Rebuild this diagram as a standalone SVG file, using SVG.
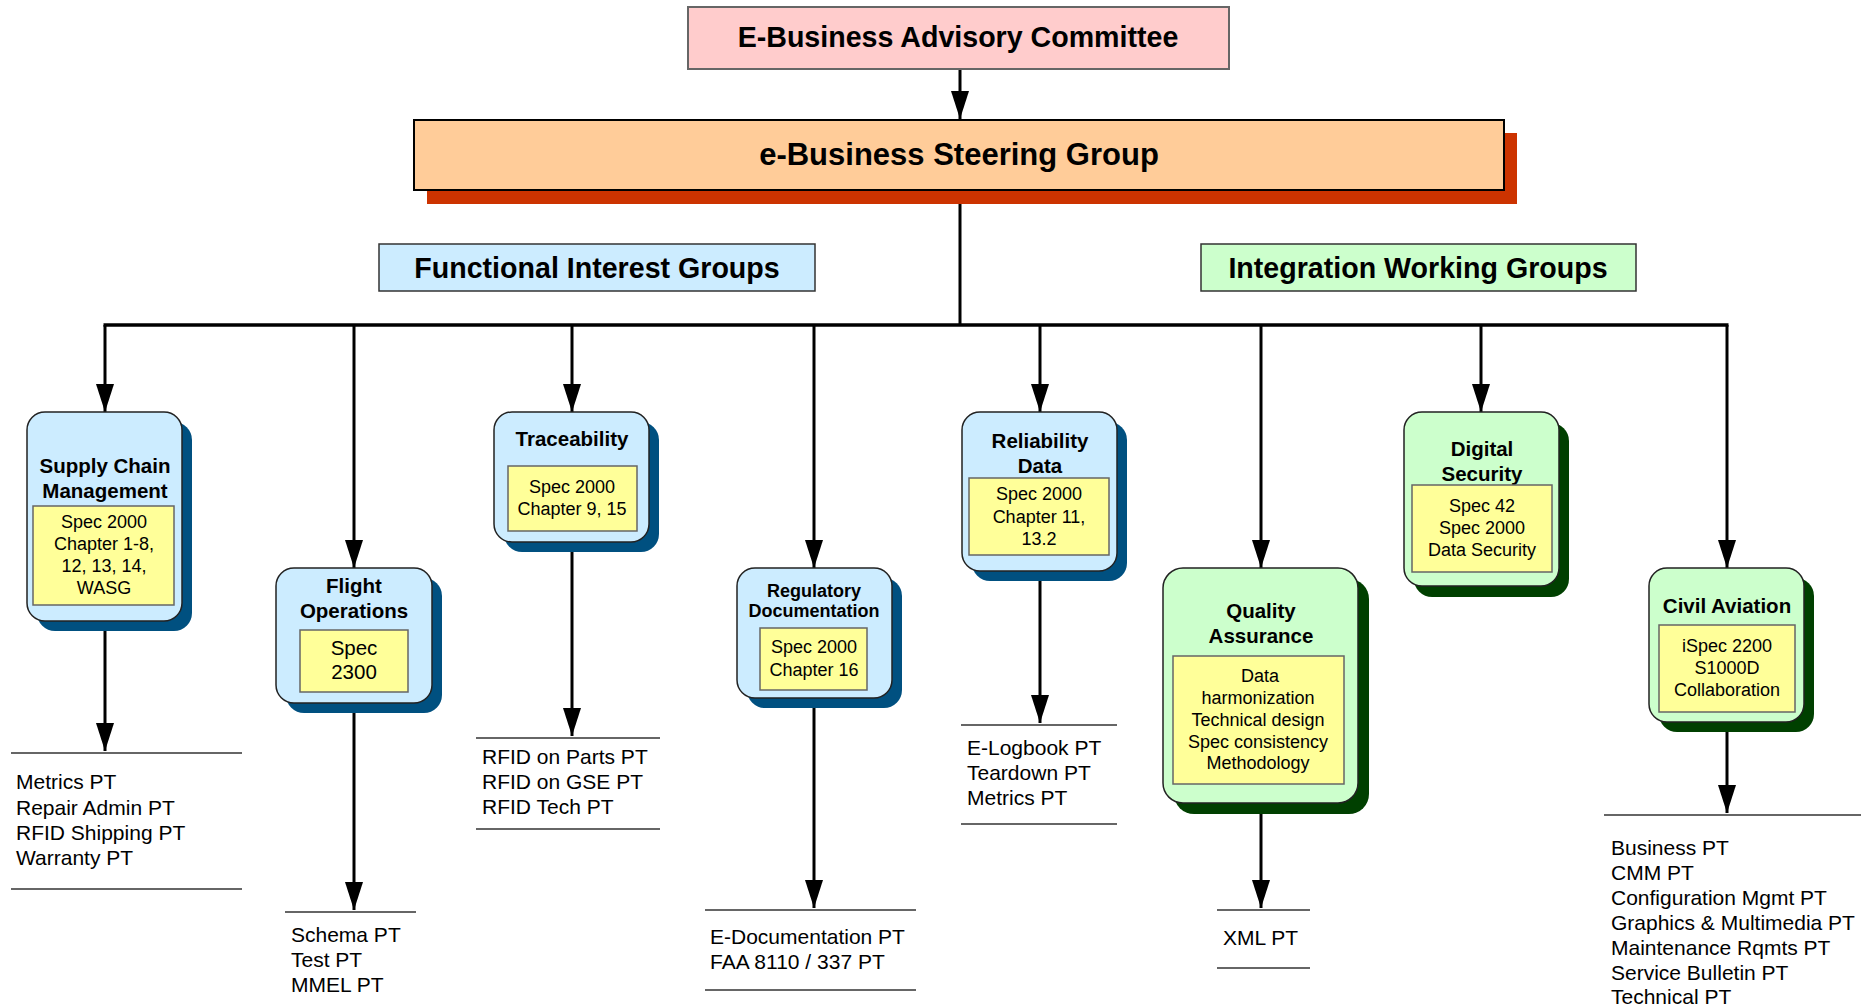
<svg xmlns="http://www.w3.org/2000/svg" width="1867" height="1008" viewBox="0 0 1867 1008">
<style>
text{font-family:"Liberation Sans",Arial,sans-serif;fill:#000}
.t{font-weight:bold;font-size:20.5px;text-anchor:middle}
.ts{font-weight:bold;font-size:18px;text-anchor:middle}
.y{font-size:18px;text-anchor:middle}
.l{font-size:21px}
.h{font-weight:bold;font-size:28.6px;text-anchor:middle}
.blue{fill:#CCECFF;stroke:#222;stroke-width:1.5}
.bsh{fill:#005080}
.green{fill:#CCFFCC;stroke:#222;stroke-width:1.5}
.gsh{fill:#004000}
.yb{fill:#FFFF99;stroke:#666;stroke-width:1.5}
.con{stroke:#000;stroke-width:3;fill:none}
.sep{stroke:#666;stroke-width:2}
</style>
<defs>
<marker id="ah" viewBox="0 0 28 18" refX="28" refY="9" markerWidth="28" markerHeight="18" orient="auto" markerUnits="userSpaceOnUse">
<path d="M0,0 L28,9 L0,18 z" fill="#000"/>
</marker>
</defs>
<rect width="1867" height="1008" fill="#fff"/>

<g id="connectors">
<line class="con" x1="960" y1="69" x2="960" y2="119" marker-end="url(#ah)"/>
<line class="con" x1="960" y1="190" x2="960" y2="325"/>
<line class="con" x1="103.5" y1="325" x2="1728.5" y2="325" style="stroke-width:3.5"/>
<line class="con" x1="105" y1="325" x2="105" y2="412" marker-end="url(#ah)"/>
<line class="con" x1="354" y1="325" x2="354" y2="568" marker-end="url(#ah)"/>
<line class="con" x1="572" y1="325" x2="572" y2="412" marker-end="url(#ah)"/>
<line class="con" x1="814" y1="325" x2="814" y2="568" marker-end="url(#ah)"/>
<line class="con" x1="1040" y1="325" x2="1040" y2="412" marker-end="url(#ah)"/>
<line class="con" x1="1261" y1="325" x2="1261" y2="568" marker-end="url(#ah)"/>
<line class="con" x1="1481" y1="325" x2="1481" y2="412" marker-end="url(#ah)"/>
<line class="con" x1="1727" y1="325" x2="1727" y2="568" marker-end="url(#ah)"/>
<line class="con" x1="105" y1="621" x2="105" y2="751" marker-end="url(#ah)"/>
<line class="con" x1="354" y1="703" x2="354" y2="910" marker-end="url(#ah)"/>
<line class="con" x1="572" y1="542" x2="572" y2="736" marker-end="url(#ah)"/>
<line class="con" x1="814" y1="698" x2="814" y2="908" marker-end="url(#ah)"/>
<line class="con" x1="1040" y1="571" x2="1040" y2="723" marker-end="url(#ah)"/>
<line class="con" x1="1261" y1="803" x2="1261" y2="908" marker-end="url(#ah)"/>
<line class="con" x1="1727" y1="722" x2="1727" y2="813" marker-end="url(#ah)"/>
</g>

<g id="advisory">
<rect x="688" y="7" width="541" height="62" fill="#FFCCCC" stroke="#666" stroke-width="2"/>
<text class="h" x="958" y="47">E-Business Advisory Committee</text>
</g>

<g id="steering">
<rect x="427" y="133" width="1090" height="71" fill="#CC3300"/>
<rect x="414" y="120" width="1090" height="70" fill="#FFCC99" stroke="#000" stroke-width="2"/>
<text x="959" y="165" style="font-weight:bold;font-size:31px;text-anchor:middle">e-Business Steering Group</text>
</g>

<g id="functional-label">
<rect x="379" y="244" width="436" height="47" fill="#CCECFF" stroke="#333" stroke-width="1.5"/>
<text class="h" x="597" y="278">Functional Interest Groups</text>
</g>

<g id="integration-label">
<rect x="1201" y="244" width="435" height="47" fill="#CCFFCC" stroke="#333" stroke-width="1.5"/>
<text class="h" x="1418" y="278">Integration Working Groups</text>
</g>

<g id="supply-chain">
<rect class="bsh" x="37" y="422" width="155" height="209" rx="18"/>
<rect class="blue" x="27" y="412" width="155" height="209" rx="18"/>
<text class="t" x="105" y="473">Supply Chain</text>
<text class="t" x="105" y="498">Management</text>
<rect class="yb" x="33" y="506" width="141" height="99"/>
<text class="y" x="104" y="528">Spec 2000</text>
<text class="y" x="104" y="550">Chapter 1-8,</text>
<text class="y" x="104" y="572">12, 13, 14,</text>
<text class="y" x="104" y="594">WASG</text>
</g>

<g id="flight-ops">
<rect class="bsh" x="286" y="578" width="156" height="135" rx="18"/>
<rect class="blue" x="276" y="568" width="156" height="135" rx="18"/>
<text class="t" x="354" y="593">Flight</text>
<text class="t" x="354" y="618">Operations</text>
<rect class="yb" x="300" y="630" width="108" height="62"/>
<text x="354" y="655" style="font-size:20.5px;text-anchor:middle">Spec</text>
<text x="354" y="679" style="font-size:20.5px;text-anchor:middle">2300</text>
</g>

<g id="traceability">
<rect class="bsh" x="504" y="422" width="155" height="130" rx="18"/>
<rect class="blue" x="494" y="412" width="155" height="130" rx="18"/>
<text class="t" x="572" y="446">Traceability</text>
<rect class="yb" x="508" y="466" width="129" height="65"/>
<text class="y" x="572" y="493">Spec 2000</text>
<text class="y" x="572" y="515">Chapter 9, 15</text>
</g>

<g id="regulatory">
<rect class="bsh" x="747" y="578" width="155" height="130" rx="18"/>
<rect class="blue" x="737" y="568" width="155" height="130" rx="18"/>
<text class="ts" x="814" y="597">Regulatory</text>
<text class="ts" x="814" y="617">Documentation</text>
<rect class="yb" x="760" y="628" width="107" height="62"/>
<text class="y" x="814" y="653">Spec 2000</text>
<text class="y" x="814" y="676">Chapter 16</text>
</g>

<g id="reliability">
<rect class="bsh" x="972" y="422" width="155" height="159" rx="18"/>
<rect class="blue" x="962" y="412" width="155" height="159" rx="18"/>
<text class="t" x="1040" y="448">Reliability</text>
<text class="t" x="1040" y="473">Data</text>
<rect class="yb" x="969" y="478" width="140" height="77"/>
<text class="y" x="1039" y="500">Spec 2000</text>
<text class="y" x="1039" y="523">Chapter 11,</text>
<text class="y" x="1039" y="545">13.2</text>
</g>

<g id="quality">
<rect class="gsh" x="1174" y="579" width="195" height="235" rx="20"/>
<rect class="green" x="1163" y="568" width="195" height="235" rx="20"/>
<text class="t" x="1261" y="618">Quality</text>
<text class="t" x="1261" y="643">Assurance</text>
<rect class="yb" x="1173" y="656" width="171" height="128"/>
<text class="y" x="1260" y="682">Data</text>
<text class="y" x="1258" y="704">harmonization</text>
<text class="y" x="1258" y="726">Technical design</text>
<text class="y" x="1258" y="748">Spec consistency</text>
<text class="y" x="1258" y="769">Methodology</text>
</g>

<g id="digital-security">
<rect class="gsh" x="1414" y="423" width="155" height="174" rx="18"/>
<rect class="green" x="1404" y="412" width="155" height="174" rx="18"/>
<text class="t" x="1482" y="456">Digital</text>
<text class="t" x="1482" y="481">Security</text>
<rect class="yb" x="1412" y="485" width="140" height="87"/>
<text class="y" x="1482" y="512">Spec 42</text>
<text class="y" x="1482" y="534">Spec 2000</text>
<text class="y" x="1482" y="556">Data Security</text>
</g>

<g id="civil-aviation">
<rect class="gsh" x="1659" y="578" width="155" height="154" rx="18"/>
<rect class="green" x="1649" y="568" width="155" height="154" rx="18"/>
<text class="t" x="1727" y="613">Civil Aviation</text>
<rect class="yb" x="1659" y="625" width="136" height="87"/>
<text class="y" x="1727" y="652">iSpec 2200</text>
<text class="y" x="1727" y="674">S1000D</text>
<text class="y" x="1727" y="696">Collaboration</text>
</g>

<g id="list-supply">
<line class="sep" x1="11" y1="753" x2="242" y2="753"/>
<line class="sep" x1="11" y1="889" x2="242" y2="889"/>
<text class="l" x="16" y="789">Metrics PT</text>
<text class="l" x="16" y="815">Repair Admin PT</text>
<text class="l" x="16" y="840">RFID Shipping PT</text>
<text class="l" x="16" y="865">Warranty PT</text>
</g>

<g id="list-flight">
<line class="sep" x1="285" y1="912" x2="416" y2="912"/>
<text class="l" x="291" y="942">Schema PT</text>
<text class="l" x="291" y="967">Test PT</text>
<text class="l" x="291" y="992">MMEL PT</text>
</g>

<g id="list-trace">
<line class="sep" x1="476" y1="738" x2="660" y2="738"/>
<line class="sep" x1="476" y1="829" x2="660" y2="829"/>
<text class="l" x="482" y="764">RFID on Parts PT</text>
<text class="l" x="482" y="789">RFID on GSE PT</text>
<text class="l" x="482" y="814">RFID Tech PT</text>
</g>

<g id="list-regulatory">
<line class="sep" x1="705" y1="910" x2="916" y2="910"/>
<line class="sep" x1="705" y1="990" x2="916" y2="990"/>
<text class="l" x="710" y="944">E-Documentation PT</text>
<text class="l" x="710" y="969">FAA 8110 / 337 PT</text>
</g>

<g id="list-reliability">
<line class="sep" x1="961" y1="725" x2="1117" y2="725"/>
<line class="sep" x1="961" y1="824" x2="1117" y2="824"/>
<text class="l" x="967" y="755">E-Logbook PT</text>
<text class="l" x="967" y="780">Teardown PT</text>
<text class="l" x="967" y="805">Metrics PT</text>
</g>

<g id="list-quality">
<line class="sep" x1="1217" y1="910" x2="1310" y2="910"/>
<line class="sep" x1="1217" y1="968" x2="1310" y2="968"/>
<text class="l" x="1223" y="945">XML PT</text>
</g>

<g id="list-civil">
<line class="sep" x1="1604" y1="815" x2="1861" y2="815"/>
<text class="l" x="1611" y="855">Business PT</text>
<text class="l" x="1611" y="880">CMM PT</text>
<text class="l" x="1611" y="905">Configuration Mgmt PT</text>
<text class="l" x="1611" y="930">Graphics &amp; Multimedia PT</text>
<text class="l" x="1611" y="955">Maintenance Rqmts PT</text>
<text class="l" x="1611" y="980">Service Bulletin PT</text>
<text class="l" x="1611" y="1004">Technical PT</text>
</g>
</svg>
